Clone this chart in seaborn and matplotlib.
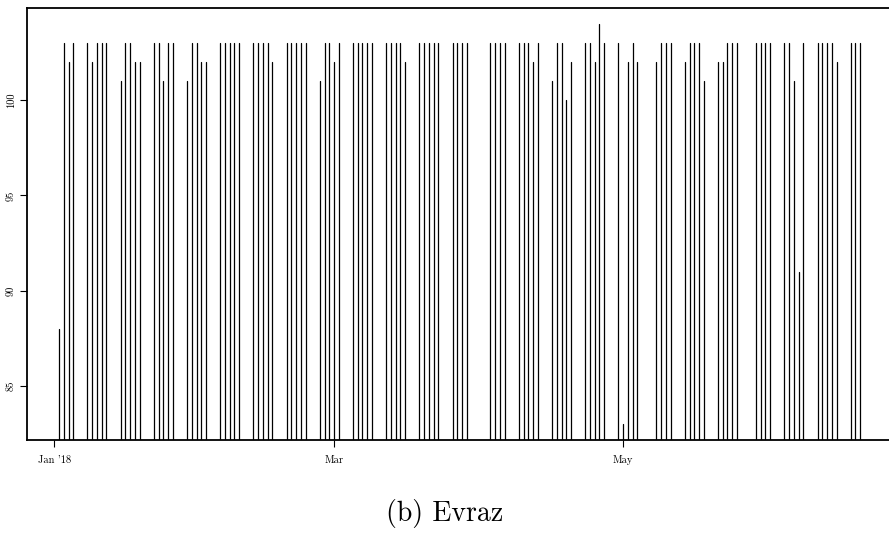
import matplotlib
matplotlib.use("Agg")
import matplotlib.pyplot as plt
import seaborn as sns
import pandas as pd

sns.set_theme(style="ticks")
plt.rcParams["font.family"] = ["cmr10", "DejaVu Serif"]
plt.rcParams["axes.formatter.use_mathtext"] = True
plt.rcParams["text.color"] = "black"
plt.rcParams["xtick.labelcolor"] = "black"
plt.rcParams["ytick.labelcolor"] = "black"

# trading days (week by week) and closing prices
dates = [
    "2018-01-02", "2018-01-03", "2018-01-04", "2018-01-05",
    "2018-01-08", "2018-01-09", "2018-01-10", "2018-01-11", "2018-01-12",
    "2018-01-15", "2018-01-16", "2018-01-17", "2018-01-18", "2018-01-19",
    "2018-01-22", "2018-01-23", "2018-01-24", "2018-01-25", "2018-01-26",
    "2018-01-29", "2018-01-30", "2018-01-31", "2018-02-01", "2018-02-02",
    "2018-02-05", "2018-02-06", "2018-02-07", "2018-02-08", "2018-02-09",
    "2018-02-12", "2018-02-13", "2018-02-14", "2018-02-15", "2018-02-16",
    "2018-02-19", "2018-02-20", "2018-02-21", "2018-02-22", "2018-02-23",
    "2018-02-26", "2018-02-27", "2018-02-28", "2018-03-01", "2018-03-02",
    "2018-03-05", "2018-03-06", "2018-03-07", "2018-03-08", "2018-03-09",
    "2018-03-12", "2018-03-13", "2018-03-14", "2018-03-15", "2018-03-16",
    "2018-03-19", "2018-03-20", "2018-03-21", "2018-03-22", "2018-03-23",
    "2018-03-26", "2018-03-27", "2018-03-28", "2018-03-29",
    "2018-04-03", "2018-04-04", "2018-04-05", "2018-04-06",
    "2018-04-09", "2018-04-10", "2018-04-11", "2018-04-12", "2018-04-13",
    "2018-04-16", "2018-04-17", "2018-04-18", "2018-04-19", "2018-04-20",
    "2018-04-23", "2018-04-24", "2018-04-25", "2018-04-26", "2018-04-27",
    "2018-04-30", "2018-05-01", "2018-05-02", "2018-05-03", "2018-05-04",
    "2018-05-08", "2018-05-09", "2018-05-10", "2018-05-11",
    "2018-05-14", "2018-05-15", "2018-05-16", "2018-05-17", "2018-05-18",
    "2018-05-21", "2018-05-22", "2018-05-23", "2018-05-24", "2018-05-25",
    "2018-05-29", "2018-05-30", "2018-05-31", "2018-06-01",
    "2018-06-04", "2018-06-05", "2018-06-06", "2018-06-07", "2018-06-08",
    "2018-06-11", "2018-06-12", "2018-06-13", "2018-06-14", "2018-06-15",
    "2018-06-18", "2018-06-19", "2018-06-20",
]
prices = [
    88, 103, 102, 103,
    103, 102, 103, 103, 103,
    101, 103, 103, 102, 102,
    103, 103, 101, 103, 103,
    101, 103, 103, 102, 102,
    103, 103, 103, 103, 103,
    103, 103, 103, 103, 102,
    103, 103, 103, 103, 103,
    101, 103, 103, 102, 103,
    103, 103, 103, 103, 103,
    103, 103, 103, 103, 102,
    103, 103, 103, 103, 103,
    103, 103, 103, 103,
    103, 103, 103, 103,
    103, 103, 103, 102, 103,
    101, 103, 103, 100, 102,
    103, 103, 102, 104, 103,
    103, 83, 102, 103, 102,
    102, 103, 103, 103,
    102, 103, 103, 103, 101,
    102, 102, 103, 103, 103,
    103, 103, 103, 103,
    103, 103, 101, 91, 103,
    103, 103, 103, 103, 102,
    103, 103, 103,
]
tick_dates = ["2018-01-01", "2018-03-01", "2018-05-01"]
tick_labels = ["Jan '18", "Mar", "May"]
y_ticks = [85, 90, 95, 100]

df = pd.DataFrame({"day": dates, "date": pd.to_datetime(dates), "price": prices})
# type="h" style: each day is a vertical segment from the floor up to the price
long = pd.concat([df.assign(price=0), df], ignore_index=True)

fig = plt.figure(figsize=(8.89, 5.35), dpi=100)
ax = fig.add_axes([27 / 889, 1 - 440 / 535, (892 - 27) / 889, (440 - 8) / 535])

sns.lineplot(data=long, x="date", y="price", units="day", estimator=None,
             color="black", linewidth=0.9, ax=ax)

ax.set_ylim(82.16, 104.84)
ax.set_xlim(pd.Timestamp("2018-01-01") - pd.Timedelta(days=5.76),
            pd.Timestamp("2018-01-01") + pd.Timedelta(days=176.7))

ax.set_xticks(pd.to_datetime(tick_dates))
ax.set_xticklabels(tick_labels)
ax.set_yticks(y_ticks)
ax.set_yticklabels([str(v) for v in y_ticks], rotation=90, va="center")
ax.tick_params(labelsize=7.5, length=5, width=0.8, color="black", pad=6)
ax.tick_params(axis="y", pad=3)
ax.set_xlabel("")
ax.set_ylabel("")
for s in ax.spines.values():
    s.set_linewidth(1.3)
    s.set_color("black")

fig.text(0.5, 1 - 514 / 535, "(b) Evraz", ha="center", va="center",
         fontsize=20, color="black")

fig.savefig("out.png", dpi=100)
